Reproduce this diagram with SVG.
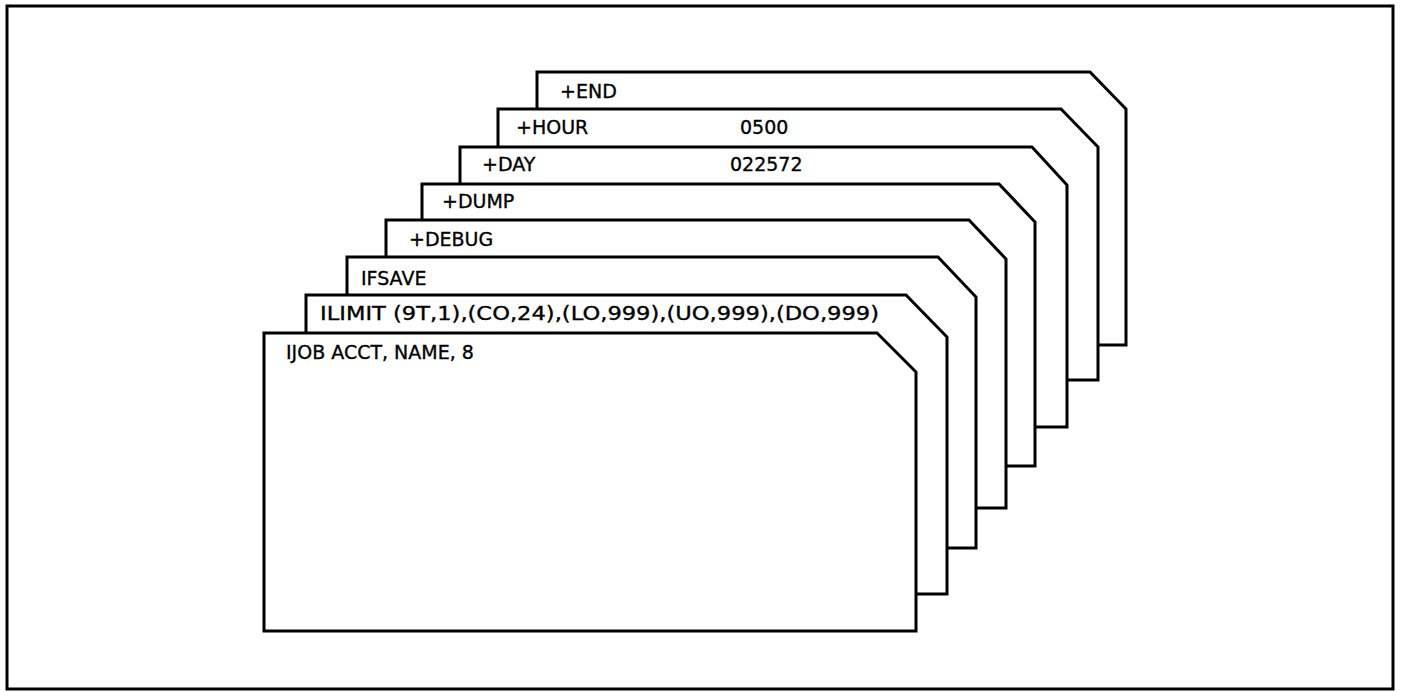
<svg xmlns="http://www.w3.org/2000/svg" width="1404" height="692" viewBox="0 0 1404 692">
<style>
.card{fill:#fff;stroke:#000;stroke-width:3;stroke-linejoin:miter}
.t{font-family:"DejaVu Sans","Liberation Sans",sans-serif;font-size:19px;fill:#000;stroke:#000;stroke-width:0.35}
</style>
<rect x="0" y="0" width="1404" height="692" fill="#fff"/>
<rect x="7" y="6" width="1386" height="683" fill="none" stroke="#000" stroke-width="3"/>
<g id="card-end">
<path class="card" d="M537,345 L537,72 L1090,72 L1126,109 L1126,345 Z"/>
<text class="t" x="560" y="98">+END</text>
</g>
<g id="card-hour">
<path class="card" d="M498,380 L498,109 L1061,109 L1098,147 L1098,380 Z"/>
<text class="t" x="516" y="134">+HOUR</text>
<text class="t" x="740" y="134">0500</text>
</g>
<g id="card-day">
<path class="card" d="M460,427 L460,147 L1032,147 L1067,185 L1067,427 Z"/>
<text class="t" x="482" y="171">+DAY</text>
<text class="t" x="730" y="171">022572</text>
</g>
<g id="card-dump">
<path class="card" d="M422,466 L422,184 L999,184 L1035,222 L1035,466 Z"/>
<text class="t" x="442" y="208">+DUMP</text>
</g>
<g id="card-debug">
<path class="card" d="M386,508 L386,220 L969,220 L1006,259 L1006,508 Z"/>
<text class="t" x="409" y="246">+DEBUG</text>
</g>
<g id="card-ifsave">
<path class="card" d="M347,548 L347,257 L938,257 L976,297 L976,548 Z"/>
<text class="t" x="361" y="285">IFSAVE</text>
</g>
<g id="card-ilimit">
<path class="card" d="M306,594 L306,295 L906,295 L947,337 L947,594 Z"/>
<text class="t" x="320" y="320" textLength="559" lengthAdjust="spacingAndGlyphs">ILIMIT (9T,1),(CO,24),(LO,999),(UO,999),(DO,999)</text>
</g>
<g id="card-ijob">
<path class="card" d="M264,631 L264,333 L877,333 L916,372 L916,631 Z"/>
<text class="t" x="286" y="359">IJOB ACCT, NAME, 8</text>
</g>
<g id="connectors"></g>
</svg>
